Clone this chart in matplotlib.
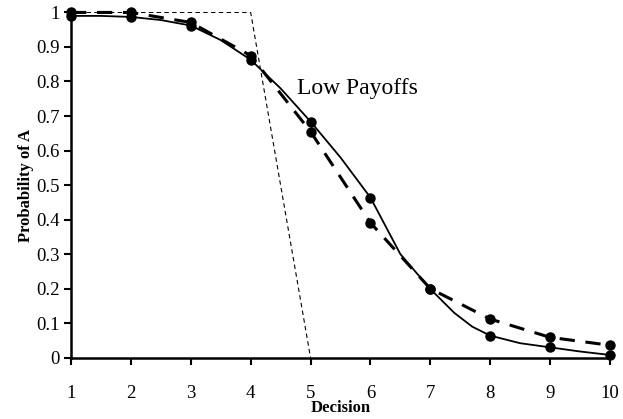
import numpy as np
import matplotlib.pyplot as plt

plt.rcParams['font.family'] = ['Liberation Serif', 'DejaVu Serif']

decision = [1, 2, 3, 4, 5, 6, 7, 8, 9, 10]
# observed proportions (solid line, dots)
observed = [0.99, 0.987, 0.962, 0.863, 0.684, 0.464, 0.199, 0.064, 0.030, 0.008]
# solid curve as drawn (read at half steps)
curve_x = [1, 1.5, 2, 2.5, 3, 3.5, 4, 4.5, 5, 5.5, 6, 6.5, 7, 7.4, 7.7, 8, 8.5, 9, 9.5, 10]
curve_y = [0.99, 0.99, 0.987, 0.978, 0.962, 0.92, 0.863, 0.78, 0.684, 0.58, 0.464,
           0.30, 0.199, 0.13, 0.09, 0.064, 0.042, 0.030, 0.018, 0.008]
# predicted (thick dashed, dots)
predicted = [1.0, 1.0, 0.971, 0.875, 0.655, 0.391, 0.20, 0.112, 0.059, 0.036]
# risk neutral (thin dashed)
neutral_x = [1, 2, 3, 4, 5]
neutral_y = [1, 1, 1, 1, 0]

xticks = list(range(1, 11))
yticks = [0, 0.1, 0.2, 0.3, 0.4, 0.5, 0.6, 0.7, 0.8, 0.9, 1]
yticklabels = ['0', '0.1', '0.2', '0.3', '0.4', '0.5', '0.6', '0.7', '0.8', '0.9', '1']

fig = plt.figure(figsize=(6.23, 4.19), dpi=100)
ax = fig.add_axes([0.114, 0.1463, 0.865, 0.824])

ax.plot(neutral_x, neutral_y, color='black', lw=0.8, ls=(0, (4, 3)))
ax.plot(curve_x, curve_y, color='black', lw=1.3)
ax.plot(decision, observed, 'o', color='black', ms=6.5, clip_on=False)
ax.plot(decision, predicted, color='black', lw=2.2, ls=(0, (5, 3.5)),
        marker='o', ms=6.5, clip_on=False)

ax.text(4.77, 0.78, 'Low Payoffs', fontsize=17, va='center', ha='left')

ax.set_xlim(1, 10)
ax.set_ylim(0, 1)
ax.set_xticks(xticks)
ax.set_yticks(yticks)
ax.set_yticklabels(yticklabels)
ax.tick_params(axis='both', direction='out', width=1.5, length=5, labelsize=13.5)
ax.tick_params(axis='x', pad=15)
ax.tick_params(axis='y', pad=3)

for s in ['top', 'right']:
    ax.spines[s].set_visible(False)
for s in ['left', 'bottom']:
    ax.spines[s].set_linewidth(1.8)

ax.set_xlabel('Decision', fontsize=12, fontweight='bold', labelpad=-2)
ax.set_ylabel('Probability of A', fontsize=12, fontweight='bold', labelpad=2)

fig.savefig('out.png', dpi=100)
